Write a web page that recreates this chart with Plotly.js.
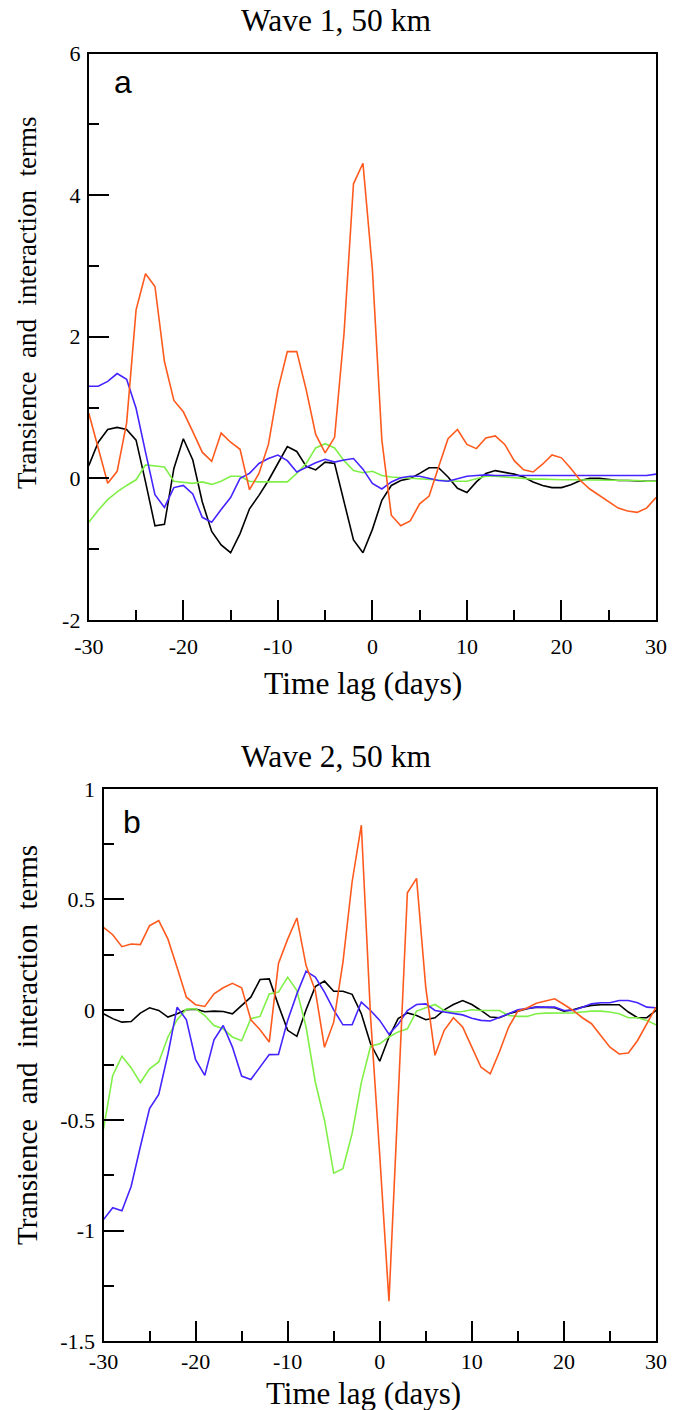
<!DOCTYPE html>
<html>
<head>
<meta charset="utf-8">
<script src="https://cdn.plot.ly/plotly-3.0.1.min.js"></script>
<style>html,body{margin:0;padding:0;background:#fff;}</style>
</head>
<body>
<div id="chart" style="width:682px;height:1410px;"></div>
<script>
// Time lag (days)
const days = [-30,-29,-28,-27,-26,-25,-24,-23,-22,-21,-20,-19,-18,-17,-16,-15,-14,-13,-12,-11,-10,-9,-8,-7,-6,-5,-4,-3,-2,-1,0,1,2,3,4,5,6,7,8,9,10,11,12,13,14,15,16,17,18,19,20,21,22,23,24,25,26,27,28,29,30];

// Panel a: Wave 1, 50 km
const w1_orange = [0.92,0.43,-0.07,0.10,0.78,2.38,2.89,2.71,1.65,1.10,0.94,0.66,0.37,0.24,0.64,0.51,0.41,-0.16,0.07,0.48,1.25,1.79,1.79,1.25,0.62,0.36,0.58,2.05,4.16,4.45,2.95,0.54,-0.52,-0.67,-0.60,-0.36,-0.25,0.16,0.56,0.69,0.48,0.42,0.57,0.60,0.48,0.25,0.12,0.09,0.20,0.33,0.29,0.14,-0.03,-0.15,-0.24,-0.33,-0.42,-0.46,-0.48,-0.42,-0.27];
const w1_black  = [0.18,0.51,0.69,0.72,0.69,0.54,-0.05,-0.67,-0.65,0.14,0.56,0.26,-0.33,-0.75,-0.94,-1.05,-0.78,-0.43,-0.24,-0.03,0.21,0.45,0.38,0.17,0.12,0.23,0.21,-0.31,-0.87,-1.05,-0.72,-0.31,-0.10,-0.03,0.00,0.07,0.15,0.15,0.02,-0.14,-0.20,-0.05,0.07,0.11,0.09,0.06,0.02,-0.05,-0.10,-0.13,-0.13,-0.09,-0.03,0.00,0.00,-0.02,-0.03,-0.03,-0.04,-0.04,-0.04];
const w1_blue   = [1.30,1.30,1.37,1.48,1.40,0.99,0.37,-0.23,-0.41,-0.13,-0.10,-0.22,-0.55,-0.62,-0.44,-0.27,0.00,0.07,0.21,0.28,0.33,0.25,0.09,0.16,0.22,0.27,0.23,0.26,0.28,0.13,-0.07,-0.15,-0.05,0.01,0.03,0.03,0.00,-0.03,-0.04,0.00,0.03,0.04,0.05,0.04,0.04,0.04,0.04,0.04,0.04,0.04,0.04,0.04,0.03,0.03,0.03,0.03,0.03,0.035,0.035,0.04,0.06];
const w1_green  = [-0.62,-0.45,-0.30,-0.19,-0.10,-0.02,0.19,0.18,0.16,-0.04,-0.05,-0.07,-0.05,-0.085,-0.04,0.03,0.03,-0.04,-0.05,-0.05,-0.05,-0.05,0.07,0.21,0.43,0.49,0.43,0.25,0.11,0.08,0.10,0.04,0.02,0.01,0.01,0.00,-0.02,-0.03,-0.03,-0.04,-0.04,0.00,0.03,0.03,0.02,0.00,-0.01,-0.01,-0.01,-0.02,-0.02,-0.02,-0.02,-0.02,-0.02,-0.03,-0.03,-0.03,-0.03,-0.04,-0.04];

// Panel b: Wave 2, 50 km
const w2_orange = [0.373,0.34,0.286,0.298,0.295,0.381,0.404,0.32,0.19,0.057,0.023,0.015,0.072,0.10,0.12,0.10,-0.045,-0.09,-0.146,0.21,0.32,0.416,0.20,0.087,-0.17,-0.056,0.215,0.58,0.836,-0.03,-0.66,-1.32,-0.40,0.53,0.595,0.10,-0.206,-0.093,-0.036,-0.078,-0.169,-0.26,-0.29,-0.19,-0.078,-0.006,0.008,0.03,0.04,0.05,0.024,-0.003,-0.036,-0.063,-0.116,-0.169,-0.20,-0.196,-0.139,-0.063,0.012];
const w2_black  = [-0.018,-0.04,-0.056,-0.053,-0.015,0.009,-0.003,-0.033,-0.018,0.0,0.003,-0.009,-0.006,-0.008,-0.018,0.02,0.057,0.137,0.14,0.02,-0.093,-0.12,0.0,0.105,0.13,0.084,0.084,0.07,-0.018,-0.154,-0.233,-0.123,-0.04,-0.014,-0.026,-0.045,-0.036,0.0,0.024,0.042,0.024,-0.003,-0.033,-0.036,-0.018,-0.006,0.005,0.012,0.012,0.009,-0.006,0.0,0.012,0.02,0.023,0.023,0.023,-0.01,-0.036,-0.036,-0.003];
const w2_blue   = [-0.95,-0.896,-0.91,-0.80,-0.62,-0.447,-0.383,-0.20,0.012,-0.045,-0.226,-0.297,-0.136,-0.071,-0.169,-0.30,-0.316,-0.26,-0.203,-0.202,-0.048,0.072,0.175,0.148,0.08,0.0,-0.068,-0.068,0.035,-0.003,-0.048,-0.111,-0.066,-0.003,0.024,0.027,-0.003,-0.01,-0.015,-0.023,-0.038,-0.048,-0.051,-0.036,-0.018,0.0,0.005,0.012,0.012,0.012,-0.003,-0.003,0.012,0.027,0.032,0.032,0.042,0.042,0.032,0.012,0.009];
const w2_green  = [-0.54,-0.297,-0.21,-0.262,-0.33,-0.267,-0.236,-0.123,-0.045,0.003,0.005,-0.026,-0.071,-0.086,-0.123,-0.14,-0.04,-0.03,0.072,0.08,0.148,0.087,-0.078,-0.327,-0.50,-0.74,-0.72,-0.56,-0.33,-0.165,-0.154,-0.123,-0.10,-0.086,-0.006,0.009,0.024,-0.003,-0.01,-0.008,0.0,-0.003,-0.003,-0.003,-0.026,-0.03,-0.03,-0.018,-0.015,-0.015,-0.015,-0.014,-0.01,-0.006,-0.006,-0.01,-0.018,-0.036,-0.036,-0.048,-0.068];

// Tick labels
const xTickVals = [-30,-20,-10,0,10,20,30];
const xTickText = ['-30','-20','-10','0','10','20','30'];
const y1TickVals = [-2,0,2,4,6];
const y1TickText = ['-2','0','2','4','6'];
const y2TickVals = [-1.5,-1,-0.5,0,0.5,1];
const y2TickText = ['-1.5','-1','-0.5','0','0.5','1'];

const C = {orange:'#ff5a1e', black:'#000000', blue:'#4424ff', green:'#80f048'};
const LW = 1.6;
const serif = '"Liberation Serif", "Times New Roman", Times, serif';
const sans = '"Liberation Sans", Arial, Helvetica, sans-serif';

function tr(y, color, xa, ya){
  return {x: days, y: y, type:'scatter', mode:'lines', line:{color:color, width:LW},
          xaxis: xa, yaxis: ya, showlegend:false, hoverinfo:'skip'};
}
const data = [
  tr(w1_black, C.black,'x','y'), tr(w1_green, C.green,'x','y'), tr(w1_blue, C.blue,'x','y'), tr(w1_orange, C.orange,'x','y'),
  tr(w2_black, C.black,'x2','y2'), tr(w2_green, C.green,'x2','y2'), tr(w2_blue, C.blue,'x2','y2'), tr(w2_orange, C.orange,'x2','y2')
];

const W = 682, H = 1410;
const px = v => v / W;
const py = v => (H - v) / H;

function xax(dom, anchor, standoff){
  return {domain: dom, anchor: anchor, range:[-30,30], tickmode:'array', tickvals: xTickVals, ticktext: xTickText,
    ticks:'inside', ticklen:20, tickwidth:2, tickcolor:'#000', ticklabelstandoff: standoff,
    showline:true, linewidth:2, linecolor:'#000', mirror:true,
    showgrid:false, zeroline:false, fixedrange:true,
    tickfont:{family:serif, size:22, color:'#000'},
    minor:{dtick:5, tick0:0, ticks:'inside', ticklen:10, tickwidth:2, tickcolor:'#000', showgrid:false}};
}
function yax(dom, anchor, range, vals, text, minorDt){
  return {domain: dom, anchor: anchor, range: range, tickmode:'array', tickvals: vals, ticktext: text,
    ticks:'inside', ticklen:20, tickwidth:2, tickcolor:'#000', ticklabelstandoff: 2,
    showline:true, linewidth:2, linecolor:'#000', mirror:true,
    showgrid:false, zeroline:false, fixedrange:true,
    tickfont:{family:serif, size:22, color:'#000'},
    minor:{dtick:minorDt, tick0:0, ticks:'inside', ticklen:10, tickwidth:2, tickcolor:'#000', showgrid:false}};
}

const layout = {
  width: W, height: H, margin:{l:0,r:0,t:0,b:0},
  paper_bgcolor:'#fff', plot_bgcolor:'#fff', showlegend:false,
  xaxis: xax([px(88.8), px(656)], 'y', 6),
  yaxis: yax([py(620), py(53.5)], 'x', [-2,6], y1TickVals, y1TickText, 1),
  xaxis2: xax([px(103.5), px(656)], 'y2', 0),
  yaxis2: yax([py(1341), py(789)], 'x2', [-1.5,1], y2TickVals, y2TickText, 0.25),
  annotations: [
    {text:'Wave 1, 50 km', xref:'paper', yref:'paper', x:px(336), y:py(20), xanchor:'center', yanchor:'middle', showarrow:false, font:{family:serif, size:31.5, color:'#000'}},
    {text:'Wave 2, 50 km', xref:'paper', yref:'paper', x:px(336), y:py(756), xanchor:'center', yanchor:'middle', showarrow:false, font:{family:serif, size:31.5, color:'#000'}},
    {text:'a', xref:'paper', yref:'paper', x:px(112), y:py(82), xanchor:'left', yanchor:'middle', showarrow:false, font:{family:sans, size:32, color:'#000'}},
    {text:'b', xref:'paper', yref:'paper', x:px(121), y:py(822), xanchor:'left', yanchor:'middle', showarrow:false, font:{family:sans, size:32, color:'#000'}},
    {text:'Time lag (days)', xref:'paper', yref:'paper', x:px(363), y:py(683), xanchor:'center', yanchor:'middle', showarrow:false, font:{family:serif, size:31.5, color:'#000'}},
    {text:'Time lag (days)', xref:'paper', yref:'paper', x:px(363), y:py(1393), xanchor:'center', yanchor:'middle', showarrow:false, font:{family:serif, size:31, color:'#000'}},
    {text:'Transience\u00a0 and\u00a0 interaction\u00a0 terms', xref:'paper', yref:'paper', x:px(27), y:py(303), xanchor:'center', yanchor:'middle', textangle:-90, showarrow:false, font:{family:serif, size:27, color:'#000'}},
    {text:'Transience\u00a0 and\u00a0 interaction\u00a0 terms', xref:'paper', yref:'paper', x:px(27), y:py(1045), xanchor:'center', yanchor:'middle', textangle:-90, showarrow:false, font:{family:serif, size:29, color:'#000'}}
  ]
};

Plotly.newPlot('chart', data, layout, {displayModeBar:false, staticPlot:true});
</script>
</body>
</html>
